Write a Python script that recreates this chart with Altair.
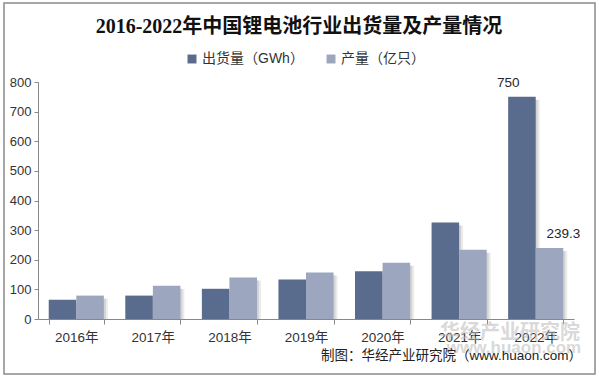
import altair as alt
import pandas as pd

years = ["2016年", "2017年", "2018年", "2019年", "2020年", "2021年", "2022年"]
shipment = [65, 79, 102, 133, 161, 326, 750]
production = [79, 112, 140, 157, 190, 234, 239.3]
series = ["出货量（GWh）", "产量（亿只）"]
colors = ["#5A6C8E", "#9CA7BF"]

rows = []
for i, y in enumerate(years):
    rows.append({"year": y, "series": series[0], "value": shipment[i]})
    rows.append({"year": y, "series": series[1], "value": production[i]})
df = pd.DataFrame(rows)

FONT = "Liberation Sans, Noto Sans CJK SC"
W, H = 536, 237

x = alt.X("year:N", sort=years, title=None,
          scale=alt.Scale(paddingInner=0.28, paddingOuter=0.14),
          axis=alt.Axis(labelAngle=0, labelFontSize=13.5, labelColor="#333333",
                        labelFont=FONT, labelPadding=6, tickSize=5, tickBand="extent",
                        domainColor="#888888", tickColor="#888888", grid=False))
xo = alt.XOffset("series:N", sort=series, scale=alt.Scale(paddingInner=0, paddingOuter=0))
y = alt.Y("value:Q", title=None,
          scale=alt.Scale(domain=[0, 800], nice=False),
          axis=alt.Axis(values=list(range(0, 801, 100)), labelFontSize=13, labelColor="#333333",
                        labelFont=FONT, labelPadding=3, tickSize=4, grid=False,
                        domainColor="#888888", tickColor="#888888"))
color = alt.Color("series:N", sort=series,
                  scale=alt.Scale(domain=series, range=colors),
                  legend=alt.Legend(title=None, orient="none", direction="horizontal",
                                    legendX=147, legendY=-30, symbolType="square",
                                    symbolSize=80, symbolStrokeWidth=0, labelFontSize=14,
                                    labelFont=FONT, labelColor="#333333", labelOffset=3,
                                    columnPadding=20, padding=0))

base = alt.Chart(df)


def shadow_layer(shift, op):
    xo_s = alt.XOffset("series:N", sort=series,
                       scale=alt.Scale(paddingInner=0, paddingOuter=0,
                                       range=[{"expr": str(shift)},
                                              {"expr": "bandwidth('x') + %d" % shift}]))
    return base.mark_bar(color="#000000", opacity=op, yOffset=3).encode(
        x=x, xOffset=xo_s, y=y, y2=alt.datum(0))


shadow1 = shadow_layer(2, 0.10)
shadow2 = shadow_layer(4, 0.08)
bars = base.mark_bar().encode(x=x, xOffset=xo, y=y, color=color)

labels = base.transform_filter(alt.datum.year == "2022年").mark_text(
    baseline="bottom", dy=-7, fontSize=13.5, color="#262626", font=FONT
).encode(x=x, xOffset=xo, y=y, text=alt.Text("value:Q"))

title = alt.Chart(pd.DataFrame({"t": ["2016-2022年中国锂电池行业出货量及产量情况"]})).mark_text(
    fontSize=20, fontWeight="bold", font="Liberation Serif, Noto Sans CJK SC",
    color="#111111", align="center", baseline="middle"
).encode(text="t:N", x=alt.value(261), y=alt.value(-55))

wm = alt.Chart(pd.DataFrame({"t": ["华经产业研究院"]})).mark_text(
    fontSize=20, fontWeight="bold", font="Noto Sans CJK SC", color="#bbbbbb", opacity=0.55,
    align="center", baseline="middle"
).encode(text="t:N", x=alt.value(472), y=alt.value(251))
wm2 = alt.Chart(pd.DataFrame({"t": ["www.huaon.com"]})).mark_text(
    fontSize=17, fontWeight="bold", font=FONT, color="#bbbbbb", opacity=0.55,
    align="center", baseline="middle"
).encode(text="t:N", x=alt.value(476), y=alt.value(266))

source = alt.Chart(pd.DataFrame({"t": ["制图：华经产业研究院（www.huaon.com）"]})).mark_text(
    fontSize=13.5, font=FONT, color="#222222", align="right", baseline="middle"
).encode(text="t:N", x=alt.value(544), y=alt.value(274))

frame = alt.Chart(pd.DataFrame({"k": [0]})).mark_rect(
    fill=None, stroke="#8a8a8a", strokeWidth=1.5
).encode(x=alt.value(-34), x2=alt.value(557), y=alt.value(-79), y2=alt.value(292))

chart = alt.layer(frame, wm, wm2, shadow1, shadow2, bars, labels, title, source).resolve_scale(
    xOffset="independent"
).properties(
    width=W, height=H,
    autosize=alt.AutoSizeParams(type="none"),
    padding={"left": 38, "top": 82, "right": 25, "bottom": 58},
    background="white",
).configure_view(stroke=None)

chart.save("out.html", embed_options={"renderer": "svg", "actions": False})
